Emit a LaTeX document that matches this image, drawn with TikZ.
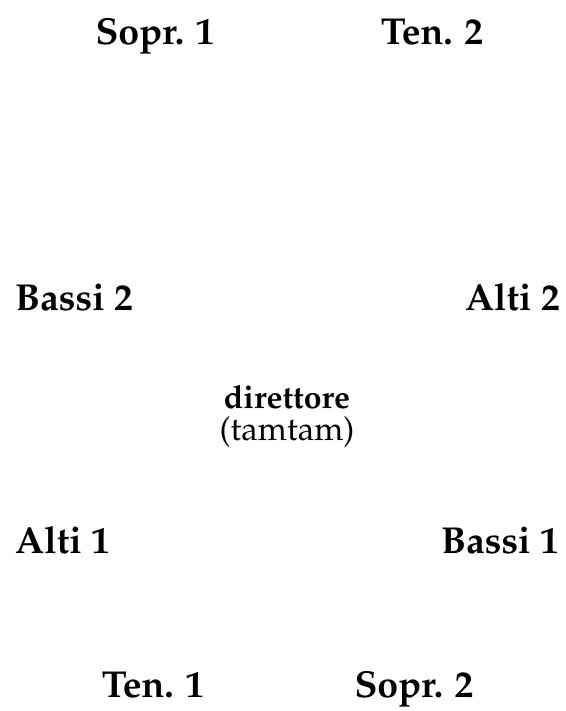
\documentclass[tikz,border=0pt]{standalone}
\usepackage[T1]{fontenc}
\usepackage{mathpazo}
\begin{document}
\begin{tikzpicture}[x=1pt,y=-1pt,
  voice/.style={font=\fontsize{37.5}{42}\selectfont\bfseries, inner sep=0pt, anchor=base},
  cond/.style={font=\fontsize{33}{40}\selectfont, inner sep=0pt, anchor=base}]
\useasboundingbox (0,0) rectangle (565,711);
\node[voice] (s1) at (155,45) {Sopr. 1};
\node[voice] (t2) at (432,45) {Ten. 2};
\node[voice, anchor=base west] (b2) at (15,310) {Bassi 2};
\node[voice, anchor=base east] (a2) at (560,310) {Alti 2};
\node[cond, font=\fontsize{32}{40}\selectfont\bfseries] (dir) at (287,408) {direttore};
\node[cond] (tam) at (287,440) {(tamtam)};
\node[voice, anchor=base west] (a1) at (15,553) {Alti 1};
\node[voice, anchor=base east] (b1) at (559,553) {Bassi 1};
\node[voice] (t1) at (153,697) {Ten. 1};
\node[voice] (s2) at (414,697) {Sopr. 2};
\end{tikzpicture}
\end{document}
